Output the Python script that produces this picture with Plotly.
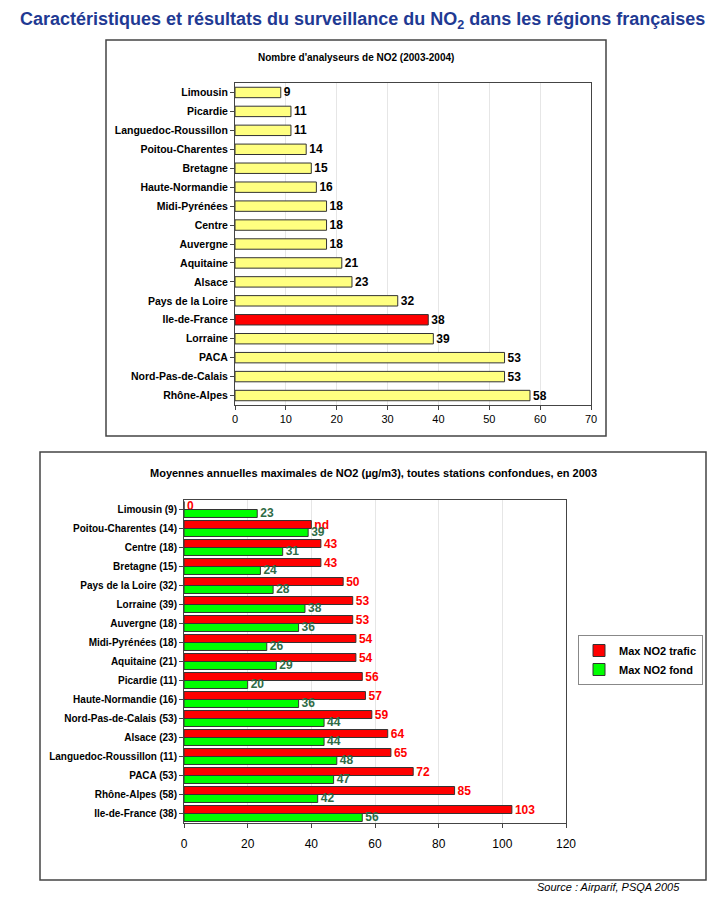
import plotly.graph_objects as go

# ---- Chart 1 data ----
regions1 = ["Limousin", "Picardie", "Languedoc-Roussillon", "Poitou-Charentes", "Bretagne",
            "Haute-Normandie", "Midi-Pyrénées", "Centre", "Auvergne", "Aquitaine", "Alsace",
            "Pays de la Loire", "Ile-de-France", "Lorraine", "PACA", "Nord-Pas-de-Calais", "Rhône-Alpes"]
analyseurs = [9, 11, 11, 14, 15, 16, 18, 18, 18, 21, 23, 32, 38, 39, 53, 53, 58]
highlight1 = "Ile-de-France"

# ---- Chart 2 data ----
regions2 = ["Limousin (9)", "Poitou-Charentes (14)", "Centre (18)", "Bretagne (15)",
            "Pays de la Loire (32)", "Lorraine (39)", "Auvergne (18)", "Midi-Pyrénées (18)",
            "Aquitaine (21)", "Picardie (11)", "Haute-Normandie (16)", "Nord-Pas-de-Calais (53)",
            "Alsace (23)", "Languedoc-Roussillon (11)", "PACA (53)", "Rhône-Alpes (58)",
            "Ile-de-France (38)"]
trafic = [0, 40, 43, 43, 50, 53, 53, 54, 54, 56, 57, 59, 64, 65, 72, 85, 103]
trafic_labels = ["0", "nd", "43", "43", "50", "53", "53", "54", "54", "56", "57", "59",
                 "64", "65", "72", "85", "103"]
fond = [23, 39, 31, 24, 28, 38, 36, 26, 29, 20, 36, 44, 44, 48, 47, 42, 56]

W, H = 725, 900
def px(x): return x / W
def py(y): return 1 - y / H

FONT = "Liberation Sans, Arial, sans-serif"

fig = go.Figure()

colors1 = ["#FF0000" if r == highlight1 else "#FFFF80" for r in regions1]
fig.add_trace(go.Bar(
    y=regions1, x=analyseurs, orientation="h", xaxis="x", yaxis="y",
    marker=dict(color=colors1, line=dict(color="#333333", width=1)),
    text=[str(v) for v in analyseurs], textposition="outside", constraintext="none",
    textfont=dict(family=FONT, size=12, color="#000000", weight="bold"),
    cliponaxis=False, width=0.55, showlegend=False,
))

fig.add_trace(go.Bar(
    y=regions2, x=trafic, orientation="h", xaxis="x2", yaxis="y2",
    name="Max NO2 trafic",
    marker=dict(color="#FF0000", line=dict(color="#333333", width=1)),
    text=trafic_labels, textposition="outside", constraintext="none",
    textfont=dict(family=FONT, size=12, color="#FF0000", weight="bold"),
    cliponaxis=False,
))
fig.add_trace(go.Bar(
    y=regions2, x=fond, orientation="h", xaxis="x2", yaxis="y2",
    name="Max NO2 fond",
    marker=dict(color="#00FF00", line=dict(color="#333333", width=1)),
    text=[str(v) for v in fond], textposition="outside", constraintext="none",
    textfont=dict(family=FONT, size=12, color="#2E6B45", weight="bold"),
    cliponaxis=False,
))

axis_common = dict(showline=True, linecolor="#444444", linewidth=1, mirror=True,
                   ticks="outside", ticklen=4, tickcolor="#444444", automargin=False,
                   tickfont=dict(family=FONT, size=11, color="#000000"))

fig.update_layout(
    width=W, height=H, margin=dict(l=0, r=0, t=0, b=0, autoexpand=False),
    paper_bgcolor="white", plot_bgcolor="white",
    barmode="group", bargap=0.16, bargroupgap=0.0,
    font=dict(family=FONT),
    xaxis=dict(domain=[px(235), px(591)], anchor="y", range=[0, 70], dtick=10,
               showgrid=True, gridcolor="#E6E6E6", zeroline=False, **axis_common),
    yaxis=dict(domain=[py(405), py(83)], anchor="x", autorange="reversed",
               categoryorder="array", categoryarray=regions1,
               showgrid=False, zeroline=False,
               **{**axis_common, "tickfont": dict(family=FONT, size=10.5, color="#000000", weight="bold")}),
    xaxis2=dict(domain=[px(184), px(566)], anchor="y2", range=[0, 120], dtick=20,
                showgrid=True, gridcolor="#E6E6E6", zeroline=False, ticklabelstandoff=6,
                **{**axis_common, "tickfont": dict(family=FONT, size=12, color="#000000")}),
    yaxis2=dict(domain=[py(823), py(500)], anchor="x2", autorange="reversed",
                categoryorder="array", categoryarray=regions2,
                showgrid=False, zeroline=False,
                **{**axis_common, "tickfont": dict(family=FONT, size=10, color="#000000", weight="bold")}),
    legend=dict(x=px(578), y=py(660), xanchor="left", yanchor="middle",
                bgcolor="white", bordercolor="#888888", borderwidth=1,
                font=dict(family=FONT, size=11, color="#000000", weight="bold"),
                itemwidth=30, tracegroupgap=0),
    shapes=[
        dict(type="rect", xref="paper", yref="paper", x0=px(106), x1=px(606),
             y0=py(436), y1=py(40), line=dict(color="#444444", width=1.5), layer="below"),
        dict(type="rect", xref="paper", yref="paper", x0=px(40), x1=px(706),
             y0=py(880), y1=py(452), line=dict(color="#444444", width=1.5), layer="below"),
    ],
    annotations=[
        dict(text="Caractéristiques et résultats du surveillance du NO<sub>2</sub> dans les régions françaises",
             xref="paper", yref="paper", x=px(362), y=py(21), showarrow=False,
             xanchor="center", yanchor="middle",
             font=dict(family=FONT, size=18, color="#1F3A93", weight="bold")),
        dict(text="Nombre d'analyseurs de NO2 (2003-2004)", xref="paper", yref="paper",
             x=px(356), y=py(58), showarrow=False, xanchor="center", yanchor="middle",
             font=dict(family=FONT, size=10, color="#000000", weight="bold")),
        dict(text="Moyennes annuelles maximales de NO2 (µg/m3), toutes stations confondues, en 2003",
             xref="paper", yref="paper", x=px(373), y=py(473), showarrow=False,
             xanchor="center", yanchor="middle",
             font=dict(family=FONT, size=11, color="#000000", weight="bold")),
        dict(text="<i>Source : Airparif, PSQA 2005</i>", xref="paper", yref="paper",
             x=px(682), y=py(887), showarrow=False, xanchor="right", yanchor="middle",
             font=dict(family=FONT, size=11, color="#000000")),
    ],
)

fig.write_html("out.html", config={"displayModeBar": False},
               post_script="document.body.style.margin='0';document.body.style.overflow='hidden';")
